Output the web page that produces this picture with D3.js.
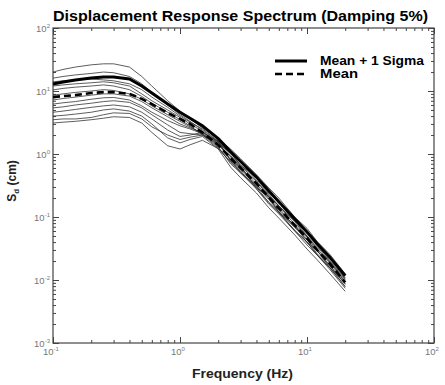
<!DOCTYPE html>
<html>
<head>
<meta charset="utf-8">
<script src="https://cdn.jsdelivr.net/npm/d3@7"></script>
<style>
  body { margin: 0; background: #fff; }
  text { font-family: "Liberation Sans", Arial, sans-serif; }
</style>
</head>
<body>
<div id="chart"></div>
<script>
// frequencies (Hz) shared by every curve
const freqs = [0.1, 0.12, 0.15, 0.2, 0.25, 0.3, 0.4, 0.5, 0.6, 0.8, 1, 1.2, 1.5, 2, 2.5, 3, 4, 5, 6, 8, 10, 12, 15, 20];

// Sd (cm) of the individual records (thin lines)
const records = [
  [20, 22, 24, 26, 27, 27, 24, 17, 12, 7.0, 4.8, 3.6, 2.6, 1.75, 1.20, 0.84, 0.47, 0.29, 0.20, 0.100, 0.066, 0.041, 0.026, 0.0125],
  [16, 17, 18, 19, 20, 19.5, 17, 13, 9.5, 6.0, 4.2, 3.3, 2.4, 1.55, 1.02, 0.66, 0.41, 0.23, 0.15, 0.088, 0.050, 0.036, 0.021, 0.0105],
  [14, 14.5, 15, 15.5, 15, 14.5, 13, 10.5, 8.0, 5.5, 4.0, 3.2, 2.5, 1.60, 0.78, 0.63, 0.29, 0.21, 0.118, 0.075, 0.039, 0.030, 0.016, 0.0090],
  [12, 12.5, 13, 13.5, 14, 13.5, 12, 9.0, 7.0, 5.0, 3.8, 3.0, 2.3, 1.45, 0.90, 0.58, 0.37, 0.21, 0.152, 0.076, 0.050, 0.031, 0.020, 0.0095],
  [10.4, 11, 11.5, 12, 12.5, 12, 10.5, 8.2, 6.4, 4.6, 3.5, 2.8, 2.0, 1.25, 0.74, 0.54, 0.28, 0.17, 0.120, 0.060, 0.040, 0.025, 0.016, 0.0078],
  [8.6, 9.0, 9.5, 10.0, 10.5, 10.2, 9.0, 7.4, 5.8, 4.2, 3.3, 2.7, 2.1, 1.50, 1.05, 0.66, 0.44, 0.24, 0.170, 0.086, 0.058, 0.035, 0.023, 0.0108],
  [7.2, 7.6, 8.0, 8.6, 9.0, 9.0, 8.3, 6.8, 5.4, 3.9, 3.0, 2.6, 2.2, 1.55, 0.82, 0.52, 0.31, 0.19, 0.122, 0.068, 0.044, 0.026, 0.017, 0.0085],
  [6.2, 6.5, 6.8, 7.4, 7.8, 7.9, 7.2, 5.8, 4.6, 3.4, 2.8, 2.5, 2.1, 1.30, 0.70, 0.50, 0.28, 0.16, 0.112, 0.060, 0.036, 0.025, 0.0150, 0.0074],
  [5.4, 5.6, 6.0, 6.4, 6.8, 7.0, 6.6, 5.4, 4.2, 2.9, 2.2, 2.1, 2.0, 1.40, 0.92, 0.62, 0.33, 0.21, 0.140, 0.070, 0.048, 0.029, 0.019, 0.0093],
  [4.6, 4.8, 5.1, 5.5, 5.8, 6.0, 5.6, 4.6, 3.6, 2.4, 1.9, 2.0, 2.2, 1.60, 0.95, 0.64, 0.38, 0.22, 0.150, 0.084, 0.048, 0.034, 0.020, 0.0102],
  [4.0, 4.1, 4.3, 4.6, 5.0, 5.2, 4.8, 4.0, 3.0, 1.8, 1.5, 1.7, 1.9, 1.20, 0.62, 0.42, 0.24, 0.14, 0.096, 0.052, 0.031, 0.021, 0.0128, 0.0066],
  [3.5, 3.6, 3.6, 3.8, 4.2, 4.5, 4.4, 3.6, 2.7, 2.0, 1.7, 1.85, 2.0, 1.45, 0.80, 0.58, 0.31, 0.20, 0.128, 0.072, 0.043, 0.029, 0.0175, 0.0088],
  [3.1, 3.2, 3.3, 3.5, 3.7, 3.9, 3.8, 3.1, 2.2, 1.35, 1.2, 1.4, 1.65, 1.22, 0.76, 0.50, 0.30, 0.17, 0.118, 0.062, 0.040, 0.025, 0.0160, 0.0079]
];

const meanPlusSigma = [12.9, 13.9, 14.9, 16.1, 16.7, 16.7, 15.5, 12.0, 9.3, 6.2, 4.6, 3.7, 2.8, 1.75, 1.09, 0.76, 0.43, 0.26, 0.175, 0.094, 0.058, 0.038, 0.0235, 0.0117];
const meanValues    = [8.0, 8.3, 8.6, 9.3, 9.6, 9.6, 9.0, 7.5, 6.2, 4.5, 3.6, 3.0, 2.2, 1.39, 0.86, 0.60, 0.34, 0.205, 0.138, 0.074, 0.046, 0.030, 0.0185, 0.0092];

const xDecades = [0.1, 1, 10, 100];
const xExp = ["-1", "0", "1", "2"];
const yDecades = [0.001, 0.01, 0.1, 1, 10, 100];
const yExp = ["-3", "-2", "-1", "0", "1", "2"];

const W = 445, H = 385;
const plot = {left: 53, right: 434, top: 28, bottom: 343};

const svg = d3.select("#chart")
    .append("svg")
    .attr("width", W)
    .attr("height", H);

const x = d3.scaleLog().domain([0.1, 100]).range([plot.left, plot.right]);
const y = d3.scaleLog().domain([0.001, 100]).range([plot.bottom, plot.top]);

// minor tick positions (2..9 of each decade)
const minorX = [];
xDecades.slice(0, -1).forEach(d => { for (let k = 2; k <= 9; k++) minorX.push(d * k); });
const minorY = [];
yDecades.slice(0, -1).forEach(d => { for (let k = 2; k <= 9; k++) minorY.push(d * k); });

const axisColor = "#444";

function drawAxis(axis, transform) {
  const g = svg.append("g").attr("transform", transform).call(axis);
  g.select(".domain").remove();
  g.selectAll("line").attr("stroke", axisColor);
  g.selectAll("text").remove();
}

// ticks point inward on all four sides
drawAxis(d3.axisBottom(x).tickValues(minorX).tickSize(-3), `translate(0,${plot.bottom})`);
drawAxis(d3.axisBottom(x).tickValues(xDecades).tickSize(-6), `translate(0,${plot.bottom})`);
drawAxis(d3.axisTop(x).tickValues(minorX).tickSize(-3), `translate(0,${plot.top})`);
drawAxis(d3.axisTop(x).tickValues(xDecades).tickSize(-6), `translate(0,${plot.top})`);
drawAxis(d3.axisLeft(y).tickValues(minorY).tickSize(-3), `translate(${plot.left},0)`);
drawAxis(d3.axisLeft(y).tickValues(yDecades).tickSize(-6), `translate(${plot.left},0)`);
drawAxis(d3.axisRight(y).tickValues(minorY).tickSize(-3), `translate(${plot.right},0)`);
drawAxis(d3.axisRight(y).tickValues(yDecades).tickSize(-6), `translate(${plot.right},0)`);

// frame
svg.append("rect")
    .attr("x", plot.left).attr("y", plot.top)
    .attr("width", plot.right - plot.left).attr("height", plot.bottom - plot.top)
    .attr("fill", "none")
    .attr("stroke", axisColor)
    .attr("stroke-width", 1.2);

// tick labels 10^n
const labelColor = "#777";
xDecades.forEach((d, i) => {
  const t = svg.append("text")
      .attr("x", x(d) - 2)
      .attr("y", plot.bottom + 12)
      .attr("text-anchor", "middle")
      .style("font-size", "9.5px")
      .style("fill", labelColor);
  t.append("tspan").text("10");
  t.append("tspan").attr("dy", -4).style("font-size", "6px").text(xExp[i]);
});
yDecades.forEach((d, i) => {
  const t = svg.append("text")
      .attr("x", plot.left - 3)
      .attr("y", y(d) + 4)
      .attr("text-anchor", "end")
      .style("font-size", "9.5px")
      .style("fill", labelColor);
  t.append("tspan").text("10");
  t.append("tspan").attr("dy", -4).style("font-size", "6px").text(yExp[i]);
});

// curves
const line = d3.line()
    .x((d, i) => x(freqs[i]))
    .y(d => y(d));

svg.append("g")
    .selectAll("path")
    .data(records)
    .join("path")
    .attr("d", line)
    .attr("fill", "none")
    .attr("stroke", "#2a2a2a")
    .attr("stroke-width", 0.9)
    .attr("stroke-opacity", 0.85);

svg.append("path")
    .attr("d", line(meanPlusSigma))
    .attr("fill", "none")
    .attr("stroke", "#000")
    .attr("stroke-width", 3);

svg.append("path")
    .attr("d", line(meanValues))
    .attr("fill", "none")
    .attr("stroke", "#000")
    .attr("stroke-width", 2.6)
    .attr("stroke-dasharray", "7,4");

// legend
const legend = svg.append("g");
legend.append("line")
    .attr("x1", 275).attr("x2", 307).attr("y1", 61).attr("y2", 61)
    .attr("stroke", "#000").attr("stroke-width", 3);
legend.append("line")
    .attr("x1", 275).attr("x2", 307).attr("y1", 74).attr("y2", 74)
    .attr("stroke", "#000").attr("stroke-width", 2.6)
    .attr("stroke-dasharray", "7,4");
legend.append("text")
    .attr("x", 320).attr("y", 65)
    .attr("textLength", 104).attr("lengthAdjust", "spacingAndGlyphs")
    .style("font-size", "12px").style("font-weight", "bold")
    .text("Mean + 1 Sigma");
legend.append("text")
    .attr("x", 320).attr("y", 78)
    .attr("textLength", 38).attr("lengthAdjust", "spacingAndGlyphs")
    .style("font-size", "12px").style("font-weight", "bold")
    .text("Mean");

// title
svg.append("text")
    .attr("x", 53)
    .attr("y", 21)
    .attr("textLength", 375).attr("lengthAdjust", "spacingAndGlyphs")
    .style("font-size", "14px")
    .style("font-weight", "bold")
    .text("Displacement Response Spectrum (Damping 5%)");

// x axis title
svg.append("text")
    .attr("x", 192)
    .attr("y", 378)
    .attr("textLength", 101).attr("lengthAdjust", "spacingAndGlyphs")
    .style("font-size", "12.5px")
    .style("font-weight", "bold")
    .style("fill", "#222")
    .text("Frequency (Hz)");

// y axis title
const yt = svg.append("text")
    .attr("transform", `translate(16, 181) rotate(-90)`)
    .attr("text-anchor", "middle")
    .style("font-size", "12px")
    .style("font-weight", "bold")
    .style("fill", "#222");
yt.append("tspan").text("S");
yt.append("tspan").attr("dy", 3).style("font-size", "8px").text("d");
yt.append("tspan").attr("dy", -3).text(" (cm)");
</script>
</body>
</html>
